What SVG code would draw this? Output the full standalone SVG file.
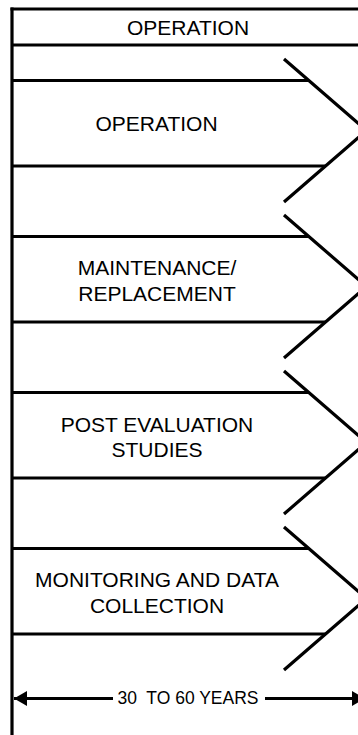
<svg xmlns="http://www.w3.org/2000/svg" width="358" height="735" viewBox="0 0 358 735">
  <style>
    .ln { stroke: #000; stroke-width: 3.2; fill: none; }
    .lbl { font-family: "Liberation Sans", Arial, sans-serif; font-size: 21px; fill: #000; text-anchor: middle; }
    .dim { font-family: "Liberation Sans", Arial, sans-serif; font-size: 17.5px; fill: #000; text-anchor: middle; }
  </style>
  <defs>
    <marker id="ah" markerUnits="userSpaceOnUse" markerWidth="14" markerHeight="15" refX="13" refY="7.5" orient="auto" viewBox="0 0 14 15">
      <path d="M0,0 L13,7.5 L0,15 Z" fill="#000"/>
    </marker>
  </defs>
  <rect width="358" height="735" fill="#fff"/>

  <g id="frame">
    <line class="ln" x1="12" y1="7.5" x2="12" y2="735"/>
  </g>

  <g id="header">
    <line class="ln" x1="10.5" y1="9" x2="358" y2="9"/>
    <line class="ln" x1="12" y1="45" x2="358" y2="45"/>
    <text class="lbl" x="188" y="34.5">OPERATION</text>
  </g>

  <g id="band-operation">
    <polyline class="ln" points="284,59 366.5,130.5 284,202"/>
    <line class="ln" x1="12" y1="80.5" x2="309" y2="80.5"/>
    <line class="ln" x1="12" y1="166" x2="325.5" y2="166"/>
    <text class="lbl" x="156.5" y="130.5">OPERATION</text>
  </g>

  <g id="band-maintenance">
    <polyline class="ln" points="284,215 366.5,286.5 284,358"/>
    <line class="ln" x1="12" y1="236.5" x2="309" y2="236.5"/>
    <line class="ln" x1="12" y1="322" x2="325.5" y2="322"/>
    <text class="lbl" x="157" y="275">MAINTENANCE/</text>
    <text class="lbl" x="157" y="300.7">REPLACEMENT</text>
  </g>

  <g id="band-post-evaluation">
    <polyline class="ln" points="284,371 366.5,442.5 284,514"/>
    <line class="ln" x1="12" y1="392.5" x2="309" y2="392.5"/>
    <line class="ln" x1="12" y1="478" x2="325.5" y2="478"/>
    <text class="lbl" x="157" y="431.5">POST EVALUATION</text>
    <text class="lbl" x="157" y="457">STUDIES</text>
  </g>

  <g id="band-monitoring">
    <polyline class="ln" points="284,527 366.5,598.5 284,670"/>
    <line class="ln" x1="12" y1="548.5" x2="309" y2="548.5"/>
    <line class="ln" x1="12" y1="634" x2="325.5" y2="634"/>
    <text class="lbl" x="157" y="587">MONITORING AND DATA</text>
    <text class="lbl" x="157" y="612.5">COLLECTION</text>
  </g>

  <g id="connectors">
    <line class="ln" x1="113" y1="698.5" x2="14" y2="698.5" marker-end="url(#ah)"/>
    <line class="ln" x1="265" y1="698.5" x2="365" y2="698.5" marker-end="url(#ah)"/>
    <text class="dim" x="188" y="703.5" xml:space="preserve">30  TO 60 YEARS</text>
  </g>
</svg>
